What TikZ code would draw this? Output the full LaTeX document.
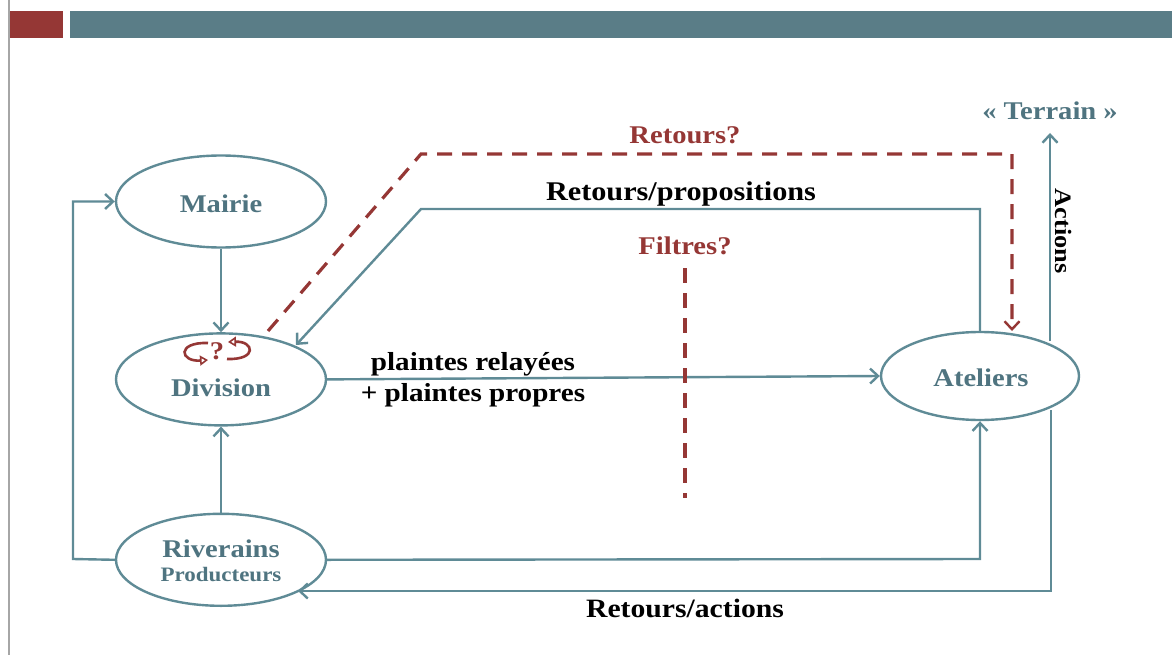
\documentclass[tikz,border=0pt]{standalone}
\usepackage{fontspec}
\setmainfont[FakeStretch=1.12]{Liberation Serif}
\usetikzlibrary{positioning,arrows.meta,shapes.geometric}
\definecolor{tealb}{HTML}{5A7D87}
\definecolor{tealt}{HTML}{4F7480}
\definecolor{tealf}{HTML}{5F8B96}
\definecolor{brique}{HTML}{953735}
\begin{document}
\begin{tikzpicture}
      [
        x=1pt, y=-1pt,
        >={Straight Barb[length=8pt,width=15pt,line width=2.4pt]},
        acteur/.style={ellipse, draw=tealf, line width=2.4pt, minimum width=210pt, minimum height=92pt, inner sep=0pt},
        nom/.style={text=tealt, font=\fontsize{25.5}{27}\selectfont\bfseries, inner sep=0pt},
        lien/.style={draw=tealf, line width=2.4pt},
        doute/.style={draw=brique, line width=3.2pt, dash pattern=on 15pt off 10pt},
        noir/.style={text=black, font=\fontsize{26}{31}\selectfont\bfseries, align=center, inner sep=0pt},
        rouge/.style={text=brique, font=\fontsize{25.5}{27}\selectfont\bfseries, inner sep=0pt},
        tour/.style={draw=brique, line width=2.6pt, -{Triangle[open,length=8pt,width=10pt,line width=1.6pt]}}
      ]
      \useasboundingbox (0,0) rectangle (1172,655);
      % bandeau
      \fill[brique] (10,11) rectangle (63,38);
      \fill[tealb] (70,11) rectangle (1172,38);
      \fill[black!35] (8,0) rectangle (10,655);
      % acteurs
      \node[acteur] (mairie) at (221,201.5) {};
      \node[acteur] (division) [below=83.5pt of mairie] {};
      \node[acteur] (riverains) [below=86pt of division] {};
      \node[acteur, minimum width=198pt, minimum height=88pt] (ateliers) at (980,376) {};
      \node[nom] (nommairie) at (221,204) {Mairie};
      \node[nom] (nomdiv) at (221,388) {Division};
      \node[nom] (nomriv) at (221,549) {Riverains};
      \node[nom, font=\fontsize{20.5}{22}\selectfont\bfseries] (nomprod) at (221,575) {Producteurs};
      \node[nom] (nomat) at (981,378) {Ateliers};
      \node[nom] (terrain) at (1050,111) {« Terrain »};
      % textes
      \node[rouge] (retours) at (685,135) {Retours?};
      \node[noir, font=\fontsize{27}{31}\selectfont\bfseries] (propositions) at (681,194) {Retours/propositions};
      \node[rouge] (filtres) at (685,246) {Filtres?};
      \node[noir] (plaintes) at (473,379.5) {plaintes relayées\\+ plaintes propres};
      \node[noir, font=\fontsize{23.5}{27}\selectfont\bfseries] (actions) at (1064,231) [rotate=-90] {Actions};
      \node[noir, font=\fontsize{26.5}{31}\selectfont\bfseries] (retoursact) at (685,608) {Retours/actions};
      \node[rouge] (question) at (217,351) {?};
      % points de passage
      \coordinate (hautrouge) at (421,154);
      \coordinate (angrouge) at (1012,154);
      \coordinate (baisrouge) at (1012,331);
      \coordinate (departrouge) at (268,331);
      \coordinate (hautprop) at (421,209);
      \coordinate (gauche) at (73,559);
      \coordinate (droite) at (980,559);
      \coordinate (coinact) at (1051,591);
      \coordinate (actbas) at (1051,410);
      \coordinate (acthaut) at (1050,341);
      \coordinate (finter) at (1050,133);
      \coordinate (filtrehaut) at (685,268);
      \coordinate (filtrebas) at (685,498);
      \coordinate (entreediv) at (296,345);
      \coordinate (entreeriv) at (298,591);
      % liens
      \draw[lien,->] (mairie) -- (division);
      \draw[lien,->] (riverains) -- (division);
      \draw[lien,->] (division.east) -- (ateliers.west);
      \draw[lien,->] (riverains.west) -- (gauche) |- (mairie.west);
      \draw[lien,->] (riverains.east) -- (droite) -- (ateliers.south);
      \draw[lien,->] (ateliers.north) |- (hautprop) -- (entreediv);
      \draw[lien,->] (acthaut) -- (finter);
      \draw[lien,->] (actbas) -- (coinact) -- (entreeriv);
      \draw[doute] (filtrehaut) -- (filtrebas);
      \draw[doute,->] (departrouge) -- (hautrouge) -- (angrouge) -- (baisrouge);
      % rotations
      \draw[tour] (208,343) .. controls (176,342) and (180,362) .. (208,360);
      \draw[tour] (227,359) .. controls (258,360) and (254,341) .. (228,342);
\end{tikzpicture}
\end{document}
